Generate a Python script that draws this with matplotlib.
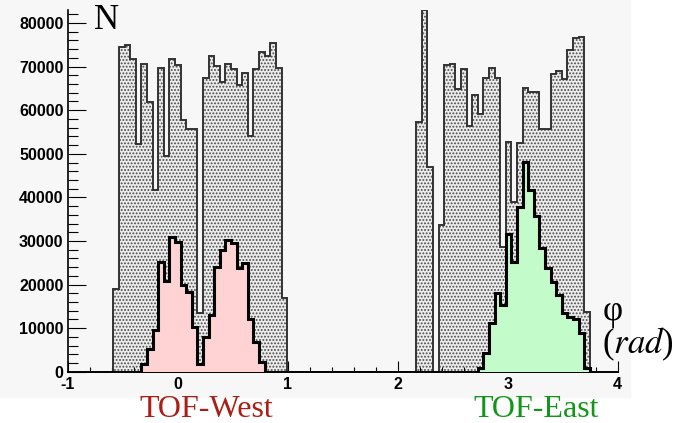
import numpy as np
import matplotlib.pyplot as plt
from matplotlib.ticker import MultipleLocator
from matplotlib.patches import Rectangle

# binning of the phi histograms (rad)
phi_min = -0.5855
bin_w = 0.05098

# all tracks, 85 bins from phi_min (one bin at 2.2 is clipped by the frame)
all_hits = [18900, 74400, 75000, 71650, 52200, 70700, 61900, 41700, 69800, 49600,
            71650, 70300, 57700, 55800, 55800, 13500, 67400, 72400, 70100, 66500,
            70600, 69400, 65900, 68600, 54100, 69400, 73400, 72400, 75500, 69600,
            16800, 0, 0, 0, 0, 0, 0, 0, 0, 0,
            0, 0, 0, 0, 0, 0, 0, 0, 0, 0,
            0, 0, 0, 0, 57200, 83000, 47000, 0, 33600, 70300,
            70700, 64800, 69400, 56400, 63500, 59100, 67300, 69700, 67300, 28700,
            52600, 39000, 52400, 65000, 64200, 64200, 55700, 55700, 68300, 69000,
            67100, 73900, 76500, 76800, 13800]

# tracks matched to TOF-West, starting at bin 5
west_first = 5
west_hits = [1700, 5200, 9600, 25200, 20900, 30800, 29700, 19900, 18300, 10300,
             1800, 7900, 13000, 24100, 27900, 30200, 29600, 23700, 24900, 12000,
             6900, 2300]

# tracks matched to TOF-East, starting at bin 65
east_first = 65
east_hits = [800, 4400, 11100, 18100, 15300, 31700, 25200, 37700, 48200, 41700,
             35700, 28300, 23900, 20600, 17600, 13400, 12600, 12100, 8900, 800]

x_ticks = [-1, 0, 1, 2, 3, 4]
y_ticks = [0, 10000, 20000, 30000, 40000, 50000, 60000, 70000, 80000]


def edges_from(first, n):
    return phi_min + bin_w * np.arange(first, first + n + 1)


plt.rcParams['hatch.linewidth'] = 0.9
plt.rcParams['mathtext.fontset'] = 'stix'
plt.rcParams['axes.unicode_minus'] = False

fig = plt.figure(figsize=(6.78, 4.23), dpi=100)
fig.patches.append(Rectangle((0, 26 / 423), 630 / 678, 1 - 26 / 423,
                             transform=fig.transFigure, color='#f7f7f7', zorder=-5))
ax = fig.add_axes([0.0999, 0.1213, 0.8111, 0.8551])
ax.set_facecolor('none')

e_all = edges_from(0, len(all_hits))
ax.stairs(all_hits, e_all, fill=True, facecolor='#ececec', edgecolor='#4a4a4a',
          hatch='.....', linewidth=0, zorder=1)
ax.stairs(all_hits, e_all, baseline=0, color='#333333', linewidth=1.4, zorder=2)

e_west = edges_from(west_first, len(west_hits))
ax.stairs(west_hits, e_west, fill=True, color='#ffd3d3', zorder=3)
ax.stairs(west_hits, e_west, baseline=0, color='black', linewidth=2.2, zorder=4)

e_east = edges_from(east_first, len(east_hits))
ax.stairs(east_hits, e_east, fill=True, color='#c4fbcb', zorder=3)
ax.stairs(east_hits, e_east, baseline=0, color='black', linewidth=2.2, zorder=4)

ax.set_xlim(-1, 4)
ax.set_ylim(0, 83000)
ax.spines['top'].set_visible(False)
ax.spines['right'].set_visible(False)
ax.spines['left'].set_linewidth(1.2)
ax.spines['bottom'].set_linewidth(1.4)

ax.set_xticks(x_ticks)
ax.set_yticks(y_ticks)
ax.xaxis.set_minor_locator(MultipleLocator(0.2))
ax.yaxis.set_minor_locator(MultipleLocator(2000))
ax.tick_params(axis='x', which='major', direction='in', length=7.7, width=0.8, pad=4)
ax.tick_params(axis='x', which='minor', direction='in', length=3.6, width=0.8)
ax.tick_params(axis='y', which='major', direction='in', length=12.7, width=0.8, pad=3)
ax.tick_params(axis='y', which='minor', direction='in', length=7.2, width=0.8)
for lab in ax.get_xticklabels() + ax.get_yticklabels():
    lab.set_fontfamily('Liberation Sans')
    lab.set_fontweight('bold')
    lab.set_fontsize(11.5)

serif = 'Liberation Serif'
fig.text(94 / 678, 1 - 29 / 423, 'N', family=serif, fontsize=25,
         ha='left', va='baseline')
fig.text(613 / 678, 1 - 312 / 423, 'φ', family=serif, fontsize=25,
         ha='center', va='center')
fig.text(638 / 678, 1 - 344 / 423, r'($\it{rad}$)', family=serif, fontsize=25,
         ha='center', va='center')
fig.text(206 / 678, 6 / 423, 'TOF-West', family=serif, fontsize=23,
         color='#aa1e14', ha='center', va='baseline')
fig.text(536 / 678, 6 / 423, 'TOF-East', family=serif, fontsize=23,
         color='#12961a', ha='center', va='baseline')

fig.savefig('out.png', dpi=100)
